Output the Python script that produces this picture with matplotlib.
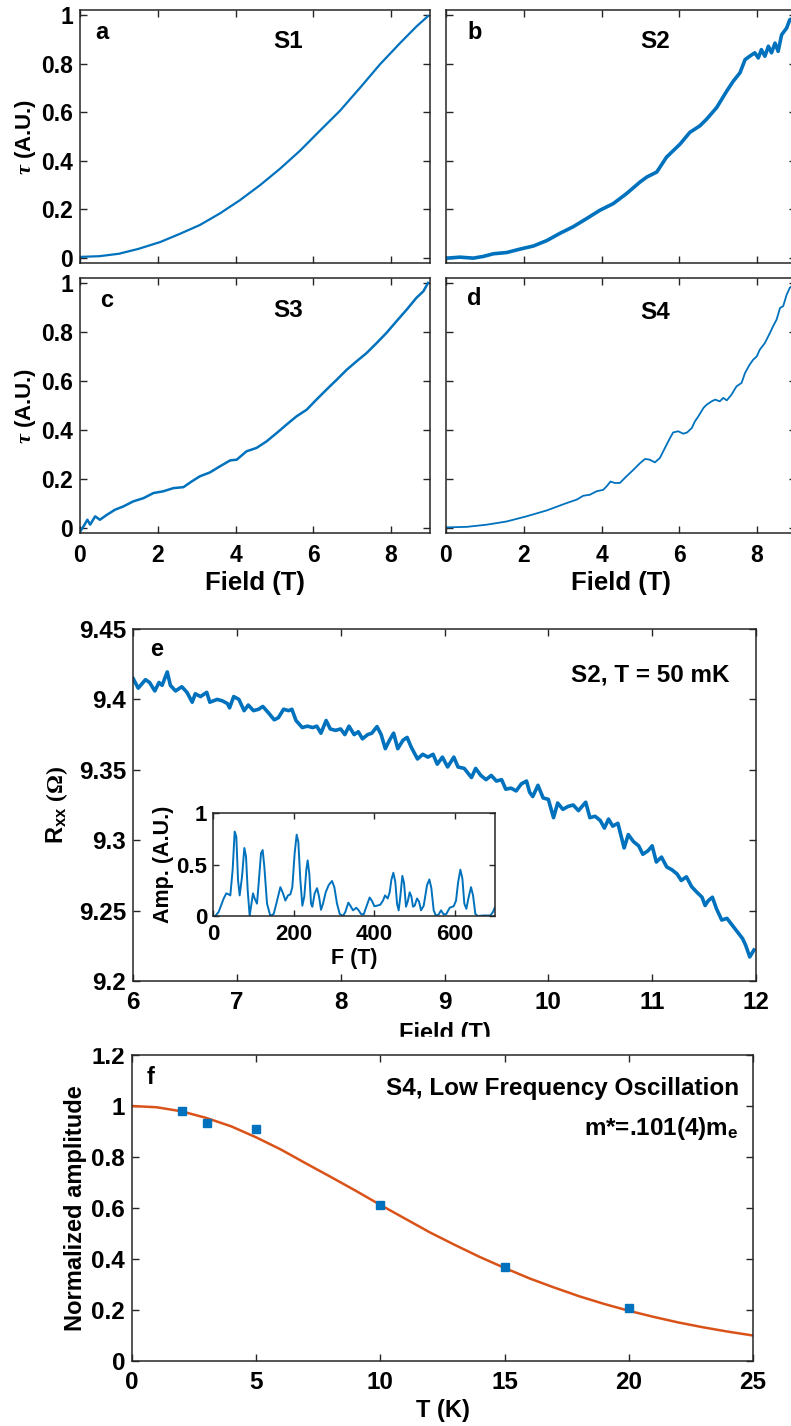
import matplotlib
matplotlib.use("Agg")
import matplotlib.pyplot as plt
from matplotlib.patches import Rectangle
from matplotlib.ticker import FuncFormatter

# ---- data -----------------------------------------------------------------
s1_field = [0.0, 0.5, 1.0, 1.5, 2.06, 2.57, 3.08, 3.6, 4.11, 4.63, 5.14, 5.66,
            6.17, 6.68, 7.2, 7.71, 8.23, 8.65, 8.95]
s1_tau = [0.005, 0.008, 0.018, 0.038, 0.066, 0.10, 0.136, 0.184, 0.238, 0.30,
          0.367, 0.442, 0.524, 0.605, 0.70, 0.796, 0.884, 0.952, 0.995]

s2_field = [0.02, 0.36, 0.70, 0.96, 1.22, 1.56, 1.90, 2.25, 2.59, 2.93, 3.27,
            3.62, 3.96, 4.30, 4.64, 4.99, 5.16, 5.42, 5.67, 6.02, 6.27, 6.53,
            6.70, 6.96, 7.22, 7.39, 7.56, 7.69, 7.81, 7.94, 8.03, 8.11, 8.20,
            8.29, 8.37, 8.46, 8.54, 8.63, 8.76, 8.84, 9.0]
s2_tau = [0.0, 0.004, 0.0, 0.007, 0.018, 0.023, 0.037, 0.05, 0.072, 0.102,
          0.129, 0.163, 0.197, 0.224, 0.265, 0.313, 0.333, 0.354, 0.415, 0.469,
          0.517, 0.544, 0.571, 0.619, 0.687, 0.728, 0.762, 0.816, 0.83, 0.844,
          0.823, 0.857, 0.83, 0.871, 0.844, 0.884, 0.85, 0.918, 0.946, 0.98,
          0.99]

s3_field = [0.02, 0.09, 0.19, 0.26, 0.39, 0.51, 0.69, 0.90, 1.11, 1.37, 1.63,
            1.89, 2.14, 2.40, 2.66, 2.87, 3.08, 3.34, 3.60, 3.86, 4.03, 4.28,
            4.54, 4.80, 5.06, 5.31, 5.57, 5.83, 6.08, 6.34, 6.60, 6.86, 7.11,
            7.37, 7.63, 7.88, 8.14, 8.40, 8.65, 8.83, 8.95]
s3_tau = [-0.01, 0.007, 0.034, 0.014, 0.048, 0.034, 0.054, 0.075, 0.088, 0.109,
          0.122, 0.143, 0.150, 0.163, 0.167, 0.19, 0.211, 0.227, 0.252, 0.276,
          0.279, 0.313, 0.327, 0.354, 0.388, 0.422, 0.456, 0.483, 0.524, 0.565,
          0.605, 0.646, 0.680, 0.714, 0.755, 0.796, 0.844, 0.891, 0.939, 0.966,
          1.0]

s4_field = [0.02, 0.53, 1.05, 1.56, 2.07, 2.59, 3.10, 3.36, 3.53, 3.70, 3.87,
            4.04, 4.13, 4.23, 4.34, 4.47, 4.64, 4.82, 4.99, 5.12, 5.24, 5.37,
            5.50, 5.63, 5.76, 5.84, 5.97, 6.10, 6.20, 6.32, 6.40, 6.49, 6.62,
            6.70, 6.83, 6.92, 7.04, 7.13, 7.22, 7.34, 7.47, 7.60, 7.69, 7.81,
            7.90, 7.99, 8.07, 8.20, 8.33, 8.41, 8.50, 8.59, 8.67, 8.76, 8.84,
            9.0]
s4_tau = [0.003, 0.005, 0.014, 0.027, 0.048, 0.072, 0.102, 0.116, 0.132, 0.136,
          0.150, 0.156, 0.170, 0.19, 0.184, 0.184, 0.211, 0.238, 0.265, 0.282,
          0.279, 0.268, 0.286, 0.327, 0.367, 0.39, 0.395, 0.385, 0.39, 0.408,
          0.435, 0.456, 0.49, 0.503, 0.517, 0.524, 0.517, 0.531, 0.521, 0.544,
          0.578, 0.592, 0.633, 0.667, 0.687, 0.70, 0.728, 0.755, 0.796, 0.823,
          0.85, 0.898, 0.905, 0.952, 0.98, 1.0]

rxx_field = [6.0, 6.05, 6.12, 6.16, 6.21, 6.25, 6.28, 6.33, 6.36, 6.41, 6.47,
             6.52, 6.57, 6.60, 6.65, 6.71, 6.74, 6.81, 6.86, 6.91, 6.93, 6.97,
             7.02, 7.07, 7.11, 7.16, 7.21, 7.25, 7.31, 7.36, 7.40, 7.45, 7.50,
             7.53, 7.57, 7.63, 7.68, 7.73, 7.77, 7.81, 7.86, 7.90, 7.95, 8.0,
             8.04, 8.08, 8.13, 8.17, 8.21, 8.26, 8.30, 8.35, 8.39, 8.43, 8.47,
             8.51, 8.55, 8.60, 8.64, 8.68, 8.74, 8.79, 8.84, 8.89, 8.93, 8.98,
             9.03, 9.09, 9.13, 9.19, 9.26, 9.30, 9.35, 9.40, 9.45, 9.50, 9.55,
             9.59, 9.64, 9.69, 9.74, 9.79, 9.82, 9.85, 9.90, 9.95, 10.0, 10.05,
             10.09, 10.14, 10.19, 10.24, 10.29, 10.36, 10.40, 10.45, 10.50,
             10.54, 10.58, 10.62, 10.67, 10.73, 10.77, 10.82, 10.87, 10.91,
             10.96, 11.00, 11.04, 11.09, 11.14, 11.19, 11.24, 11.28, 11.33,
             11.38, 11.43, 11.48, 11.51, 11.54, 11.58, 11.62, 11.67, 11.72,
             11.77, 11.82, 11.87, 11.90, 11.94, 11.98]
rxx_ohm = [9.415, 9.408, 9.414, 9.412, 9.406, 9.412, 9.41, 9.4195, 9.41, 9.406,
           9.409, 9.405, 9.398, 9.404, 9.402, 9.405, 9.398, 9.400, 9.399,
           9.397, 9.394, 9.402, 9.400, 9.392, 9.396, 9.392, 9.393, 9.395,
           9.390, 9.3855, 9.387, 9.393, 9.392, 9.393, 9.385, 9.380, 9.381,
           9.38, 9.381, 9.376, 9.385, 9.379, 9.378, 9.379, 9.375, 9.381,
           9.375, 9.377, 9.372, 9.375, 9.376, 9.3807, 9.375, 9.365, 9.371,
           9.376, 9.365, 9.371, 9.373, 9.366, 9.3577, 9.361, 9.359, 9.361,
           9.354, 9.359, 9.352, 9.359, 9.352, 9.351, 9.3445, 9.351, 9.346,
           9.343, 9.346, 9.342, 9.343, 9.3362, 9.337, 9.335, 9.340, 9.342,
           9.334, 9.331, 9.339, 9.330, 9.329, 9.316, 9.3264, 9.3219, 9.324,
           9.325, 9.321, 9.327, 9.316, 9.317, 9.314, 9.3086, 9.315, 9.310,
           9.312, 9.2945, 9.304, 9.299, 9.296, 9.290, 9.2925, 9.296, 9.2845,
           9.288, 9.281, 9.279, 9.276, 9.2714, 9.274, 9.267, 9.2631, 9.2595,
           9.2536, 9.257, 9.2595, 9.2512, 9.2433, 9.2445, 9.2397, 9.235,
           9.2302, 9.2255, 9.2171, 9.222]

fft_freq = [3, 5.8, 14.1, 26.5, 33.1, 38.9, 43.0, 48.8, 53.8, 57.9, 62.1, 66.2,
            72.0, 77.8, 81.9, 86.1, 91.0, 94.3, 99.3, 103.4, 109.2, 113.4,
            119.2, 123.3, 127.4, 134.1, 142.3, 150.6, 157.2, 167.2, 173.8,
            179.6, 186.2, 192.0, 196.9, 202.7, 207.7, 211.8, 216.8, 221.8,
            226.7, 231.7, 235.0, 239.1, 243.3, 246.6, 252.4, 258.2, 263.2,
            268.1, 273.1, 279.7, 287.1, 295.4, 301.2, 307.8, 314.5, 322.7,
            328.5, 336.0, 340.9, 347.6, 355.8, 361.6, 367.4, 374.0, 380.7,
            388.9, 395.5, 400.5, 407.1, 415.4, 422.0, 427.0, 433.6, 438.6,
            442.7, 447.7, 452.6, 456.8, 460.9, 465.0, 470.0, 474.2, 479.1,
            483.3, 488.2, 492.4, 496.5, 500.6, 506.4, 511.4, 516.4, 523.0,
            531.3, 537.1, 542.0, 547.8, 553.6, 560.2, 566.0, 572.6, 579.3,
            587.5, 597.5, 603.3, 608.2, 614.0, 619.0, 623.9, 628.9, 633.9,
            640.5, 645.5, 651.2, 657.0, 671.9, 688.5, 695.1, 699.2]
fft_amp = [0, 0, 0.04, 0.17, 0.22, 0.21, 0.20, 0.45, 0.82, 0.77, 0.35, 0.20,
           0.38, 0.66, 0.58, 0.25, 0, 0.09, 0.22, 0.17, 0.12, 0.32, 0.61, 0.64,
           0.48, 0.12, 0, 0.02, 0.12, 0.28, 0.22, 0.15, 0.20, 0.21, 0.28, 0.61,
           0.79, 0.72, 0.35, 0.10, 0.19, 0.45, 0.54, 0.41, 0.12, 0.09, 0.22,
           0.27, 0.19, 0.06, 0.12, 0.23, 0.30, 0.34, 0.28, 0.12, 0.02, 0, 0.04,
           0.13, 0.10, 0.055, 0.08, 0.055, 0.02, 0.015, 0.09, 0.18, 0.14,
           0.095, 0.10, 0.11, 0.15, 0.20, 0.17, 0.23, 0.35, 0.42, 0.33, 0.12,
           0.055, 0.19, 0.39, 0.32, 0.09, 0.14, 0.23, 0.19, 0.09, 0.10, 0.17,
           0.14, 0.055, 0.10, 0.30, 0.355, 0.27, 0.055, 0, 0.015, 0.055, 0.015,
           0.02, 0.08, 0.095, 0.15, 0.32, 0.45, 0.365, 0.12, 0.07, 0.17, 0.28,
           0.20, 0.02, 0, 0.005, 0.005, 0.04, 0.08]

temp_meas = [2, 3, 5, 10, 15, 20]
amp_meas = [0.98, 0.935, 0.91, 0.61, 0.37, 0.207]

temp_fit = list(range(0, 26))
amp_fit = [1.0, 0.995, 0.979, 0.953, 0.920, 0.877, 0.829, 0.775, 0.722, 0.668,
           0.612, 0.558, 0.504, 0.455, 0.408, 0.365, 0.324, 0.288, 0.254,
           0.224, 0.197, 0.173, 0.151, 0.132, 0.115, 0.100]

# ---- style ----------------------------------------------------------------
BLUE = "#0072BD"
ORANGE = "#D95319"
AXC = "#262626"

plt.rcParams.update({
    "font.family": "Liberation Sans",
    "font.weight": "bold",
    "axes.labelweight": "bold",
    "mathtext.fontset": "custom",
    "mathtext.rm": "Liberation Serif",
    "mathtext.it": "Liberation Serif:italic",
    "mathtext.bf": "Liberation Sans:bold",
    "text.color": "black",
})

W, H = 791, 1426
fig = plt.figure(figsize=(W / 100, H / 100), dpi=100)
FMT = FuncFormatter(lambda v, p: f"{v:g}")


def box(l, t, r, b):
    """pixel box (left, top, right, bottom) -> figure fraction rect"""
    return [l / W, 1 - b / H, (r - l) / W, (b - t) / H]


def style(ax, size=16, length=5, xpad=8, ypad=5):
    ax.tick_params(direction="in", top=True, right=True, length=length,
                   width=1, color=AXC, labelsize=size)
    ax.tick_params(axis="x", pad=xpad)
    ax.tick_params(axis="y", pad=ypad)
    for s in ax.spines.values():
        s.set_color(AXC)
        s.set_linewidth(1.1)
    ax.xaxis.set_major_formatter(FMT)
    ax.yaxis.set_major_formatter(FMT)


# ---- panels a-d -----------------------------------------------------------
panels = [
    ((80, 10, 430, 263), s1_field, s1_tau, "a", "S1", 1.6, (0.043, 0.913), (0.594, 0.874)),
    ((446, 10, 796, 263), s2_field, s2_tau, "b", "S2", 2.6, (0.06, 0.913), (0.597, 0.874)),
    ((80, 278, 430, 533), s3_field, s3_tau, "c", "S3", 1.8, (0.057, 0.91), (0.594, 0.871)),
    ((446, 278, 796, 533), s4_field, s4_tau, "d", "S4", 1.3, (0.06, 0.92), (0.597, 0.865)),
]
for k, (pos, xs, ys, letter, name, lw, lpos, npos) in enumerate(panels):
    ax = fig.add_axes(box(*pos))
    ax.plot(xs, ys, color=BLUE, lw=lw)
    ax.set_xlim(0, 9)
    ax.set_ylim(-0.02, 1.02)
    ax.set_xticks([0, 2, 4, 6, 8])
    ax.set_yticks([0, 0.2, 0.4, 0.6, 0.8, 1])
    style(ax, size=16.5)
    left = k % 2 == 0
    bottom = k >= 2
    ax.tick_params(labelleft=left, labelbottom=bottom)
    if left:
        ax.set_ylabel(r"$\tau$ (A.U.)", fontsize=16, labelpad=2)
    if bottom:
        ax.set_xlabel("Field (T)", fontsize=18.5, labelpad=3)
    ax.text(*lpos, letter, transform=ax.transAxes, fontsize=17,
            ha="left", va="center")
    ax.text(*npos, name, transform=ax.transAxes, fontsize=17.5,
            ha="center", va="center")

# ---- panel e --------------------------------------------------------------
ax = fig.add_axes(box(133, 629, 756, 981))
ax.plot(rxx_field, rxx_ohm, color=BLUE, lw=2.6)
ax.set_xlim(6, 12)
ax.set_ylim(9.2, 9.45)
ax.set_xticks(range(6, 13))
ax.set_yticks([9.2, 9.25, 9.3, 9.35, 9.4, 9.45])
style(ax, size=17.5, xpad=7)
ax.set_xlabel("Field (T)", fontsize=17, labelpad=6)
ax.set_ylabel(r"$\mathbf{R_{xx}}$ $(\Omega)$", fontsize=17, labelpad=6)
ax.text(0.027, 0.943, "e", transform=ax.transAxes, fontsize=17,
        ha="left", va="center")
ax.text(0.958, 0.869, "S2, T = 50 mK", transform=ax.transAxes, fontsize=17.5,
        ha="right", va="center")

ins = fig.add_axes(box(213, 813, 495, 916))
ins.plot(fft_freq, fft_amp, color=BLUE, lw=1.4)
ins.set_xlim(0, 700)
ins.set_ylim(0, 1)
ins.set_xticks([0, 200, 400, 600])
ins.set_yticks([0, 0.5, 1])
style(ins, size=16, length=4, xpad=6, ypad=4)
ins.set_xlabel("F (T)", fontsize=15.5, labelpad=2)
ins.set_ylabel("Amp. (A.U.)", fontsize=15.5, labelpad=2)

# the composite crops the bottom of panel e's x label
fig.add_artist(Rectangle((0, 1 - 1047 / H), 1, 10 / H, transform=fig.transFigure,
                         color="white", zorder=20))

# ---- panel f --------------------------------------------------------------
ax = fig.add_axes(box(132, 1055, 753, 1361))
ax.plot(temp_fit, amp_fit, color=ORANGE, lw=1.8)
ax.plot(temp_meas, amp_meas, "s", color=BLUE, ms=6)
ax.set_xlim(0, 25)
ax.set_ylim(0, 1.2)
ax.set_xticks([0, 5, 10, 15, 20, 25])
ax.set_yticks([0, 0.2, 0.4, 0.6, 0.8, 1, 1.2])
style(ax, size=17.5, xpad=7)
ax.set_xlabel("T (K)", fontsize=17, labelpad=4)
ax.set_ylabel("Normalized amplitude", fontsize=17, labelpad=3)
ax.text(0.024, 0.928, "f", transform=ax.transAxes, fontsize=17,
        ha="left", va="center")
ax.text(0.977, 0.892, "S4, Low Frequency Oscillation", transform=ax.transAxes,
        fontsize=17.5, ha="right", va="center")
ax.text(0.977, 0.761, r"m*=.101(4)m$_\mathbf{e}$", transform=ax.transAxes,
        fontsize=17.5, ha="right", va="center")

fig.savefig("out.png", dpi=100, facecolor="white")
